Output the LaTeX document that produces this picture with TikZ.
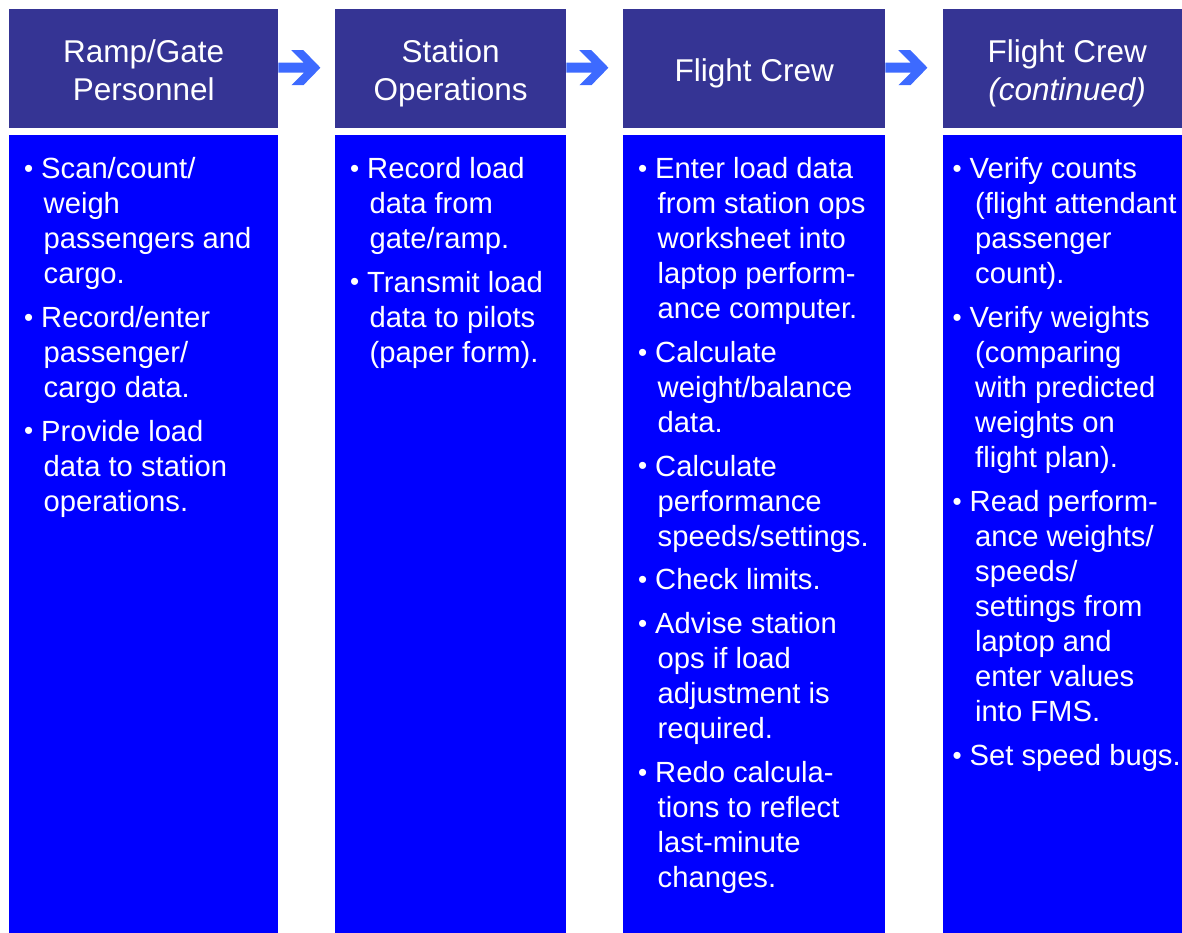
\documentclass[tikz,border=0pt]{standalone}
\usepackage{fontspec}
\setmainfont[Ligatures=NoCommon]{Liberation Sans}
\usetikzlibrary{calc}

\definecolor{headfill}{RGB}{53,52,148}
\definecolor{bodyfill}{RGB}{0,0,255}
\definecolor{arrowfill}{RGB}{61,106,255}

% bullet lists: first line carries the bullet, wrapped lines are indented
\newlength\bulletgap
\newlength\contindent
\newcommand\smallbullet{\raisebox{1.2pt}{\fontsize{26}{26}\selectfont\textbullet}}
\newcommand\firstline[1]{\makebox[\bulletgap][l]{\hspace*{0.5pt}\smallbullet}#1}
\newcommand\nextline[1]{\hspace*{\contindent}#1}

% chevron arrow leaving the east side of a header box
\newcommand\flowarrow[1]{%
  \fill[arrowfill, shift={($(#1.east)+(0,-0.75)$)}]
    (0,-5) -- (25.5,-5) -- (13,-17.5) -- (25,-17.5) -- (42,0)
    -- (25,17.5) -- (13,17.5) -- (25.5,5) -- (0,5) -- cycle;}

\begin{document}
\begin{tikzpicture}[x=1pt, y=-1pt,
  header/.style={fill=headfill, draw=none, anchor=north west, inner sep=0pt,
                 minimum height=118.5pt},
  panel/.style={fill=bodyfill, draw=none, anchor=north west, inner sep=0pt,
                minimum height=800pt},
  headtext/.style={text=white, anchor=base, inner sep=0pt,
                   font=\fontsize{31.5}{38}\selectfont},
  itemtext/.style={text=white, anchor=base west, inner sep=0pt,
                   font=\fontsize{29.2}{35.1}\selectfont},
]
\useasboundingbox (0,0) rectangle (1182,932);

% header boxes
\node[header, minimum width=269pt] (h1) at (9,9) {};
\node[header, minimum width=231pt] (h2) at (335,9) {};
\node[header, minimum width=262pt] (h3) at (623,9) {};
\node[header, minimum width=248pt] (h4) at (943,9) {};

% task panels
\node[panel, minimum width=269pt] (p1) at (9,135) {};
\node[panel, minimum width=231pt] (p2) at (335,135) {};
\node[panel, minimum width=262pt] (p3) at (623,135) {};
\node[panel, minimum width=248pt] (p4) at (943,135) {};

% header titles
\node[headtext] (h1a) at ($(h1.north)+(0,53)$) {Ramp/Gate};
\node[headtext] (h1b) at ($(h1.north)+(0,91)$) {Personnel};
\node[headtext] (h2a) at ($(h2.north)+(0,53)$) {Station};
\node[headtext] (h2b) at ($(h2.north)+(0,91)$) {Operations};
\node[headtext] (h3a) at ($(h3.north)+(0,72)$) {Flight Crew};
\node[headtext] (h4a) at ($(h4.north)+(0,53)$) {Flight Crew};
\node[headtext] (h4b) at ($(h4.north)+(0,91)$) {\itshape (continued)};

% flow arrows between headers
\flowarrow{h1}
\flowarrow{h2}
\flowarrow{h3}

% task lists
\node[itemtext] (t1) at ($(p1.north west)+(14.5,43.3)$) {%
  \setlength\bulletgap{17.5pt}\setlength\contindent{20pt}%
  \parbox[t]{250pt}{\raggedright
  \firstline{Scan/count/}\\
  \nextline{weigh}\\
  \nextline{passengers and}\\
  \nextline{cargo.}\\[8.5pt]
  \firstline{Record/enter}\\
  \nextline{passenger/}\\
  \nextline{cargo data.}\\[8.5pt]
  \firstline{Provide load}\\
  \nextline{data to station}\\
  \nextline{operations.}}};

\node[itemtext] (t2) at ($(p2.north west)+(14.5,43.3)$) {%
  \setlength\bulletgap{17.5pt}\setlength\contindent{20pt}%
  \parbox[t]{220pt}{\raggedright
  \firstline{Record load}\\
  \nextline{data from}\\
  \nextline{gate/ramp.}\\[8.5pt]
  \firstline{Transmit load}\\
  \nextline{data to pilots}\\
  \nextline{(paper form).}}};

\node[itemtext] (t3) at ($(p3.north west)+(14.5,43.3)$) {%
  \setlength\bulletgap{17.5pt}\setlength\contindent{20pt}%
  \parbox[t]{250pt}{\raggedright
  \firstline{Enter load data}\\
  \nextline{from station ops}\\
  \nextline{worksheet into}\\
  \nextline{laptop perform-}\\
  \nextline{ance computer.}\\[8.5pt]
  \firstline{Calculate}\\
  \nextline{weight/balance}\\
  \nextline{data.}\\[8.5pt]
  \firstline{Calculate}\\
  \nextline{performance}\\
  \nextline{speeds/settings.}\\[8.5pt]
  \firstline{Check limits.}\\[8.5pt]
  \firstline{Advise station}\\
  \nextline{ops if load}\\
  \nextline{adjustment is}\\
  \nextline{required.}\\[8.5pt]
  \firstline{Redo calcula-}\\
  \nextline{tions to reflect}\\
  \nextline{last-minute}\\
  \nextline{changes.}}};

\node[itemtext] (t4) at ($(p4.north west)+(9,43.3)$) {%
  \setlength\bulletgap{17.5pt}\setlength\contindent{23pt}%
  \parbox[t]{240pt}{\raggedright
  \firstline{Verify counts}\\
  \nextline{(flight attendant}\\
  \nextline{passenger}\\
  \nextline{count).}\\[8.5pt]
  \firstline{Verify weights}\\
  \nextline{(comparing}\\
  \nextline{with predicted}\\
  \nextline{weights on}\\
  \nextline{flight plan).}\\[8.5pt]
  \firstline{Read perform-}\\
  \nextline{ance weights/}\\
  \nextline{speeds/}\\
  \nextline{settings from}\\
  \nextline{laptop and}\\
  \nextline{enter values}\\
  \nextline{into FMS.}\\[8.5pt]
  \firstline{Set speed bugs.}}};
\end{tikzpicture}
\end{document}
